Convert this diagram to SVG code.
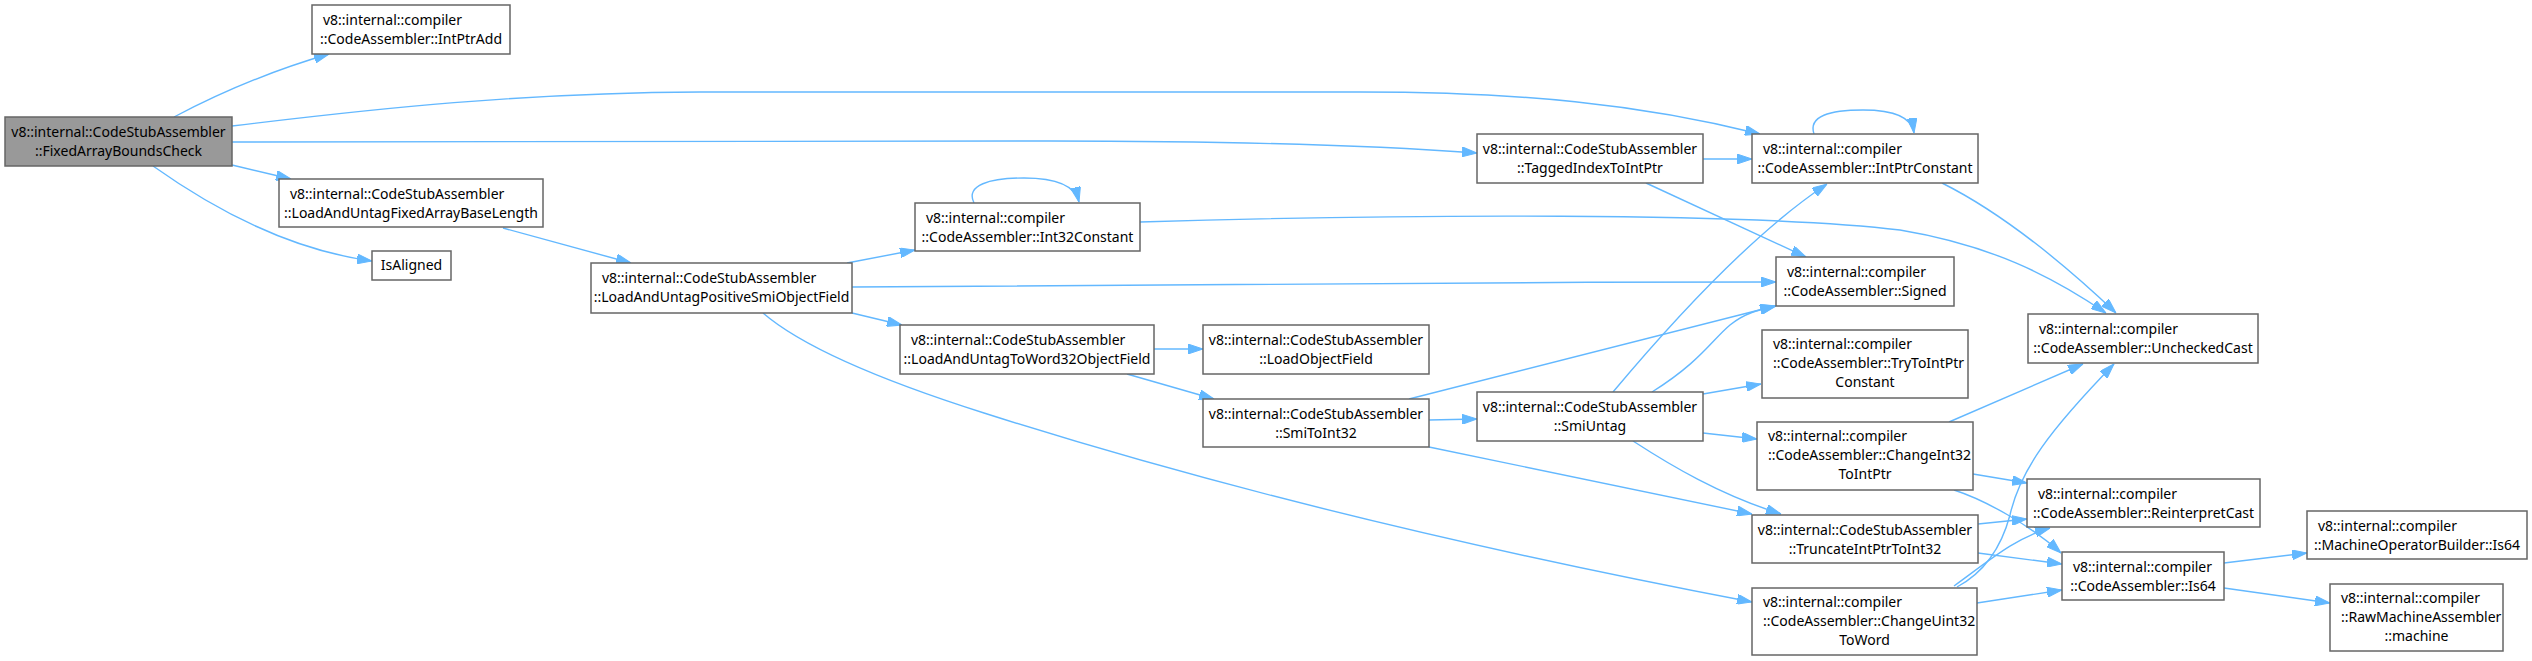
<svg xmlns="http://www.w3.org/2000/svg" width="2532" height="661" viewBox="0 0 2532 661">
<style>
.node rect{fill:#ffffff;stroke:#666666;stroke-width:1.5}
.root rect{fill:#999999}
.node text{font-family:"Noto Sans","Open Sans",sans-serif;font-size:14px;fill:#000000}
.c{text-anchor:middle}
.edge path{fill:none;stroke:#63b8ff;stroke-width:1.4;marker-end:url(#arr)}
</style>
<defs>
<marker id="arr" markerUnits="userSpaceOnUse" viewBox="0 0 15 10" markerWidth="15" markerHeight="10" refX="15" refY="5" orient="auto">
<path d="M0,0 L15,5 L0,10 z" fill="#63b8ff" stroke="#63b8ff" stroke-width="1"/>
</marker>
</defs>
<rect width="2532" height="661" fill="#ffffff"/>
<g id="connectors" class="edge">
<path d="M174,117 C210,98 260,74 329,54"/>
<path d="M232,126 C380,108 520,93 700,92 L1360,92 C1520,92 1640,104 1760,134"/>
<path d="M232,142 L1050,141 C1250,141 1380,146 1477,153"/>
<path d="M232,165 L291,179"/>
<path d="M153,166 C215,210 290,250 372,261"/>
<path d="M503,228 L631,263"/>
<path d="M847,263 L915,250"/>
<path d="M852,287 C1100,285 1450,282 1776,282"/>
<path d="M852,313 L902,325"/>
<path d="M763,313 C800,345 880,380 984,413 C1150,466 1400,535 1752,602"/>
<path d="M1154,349 L1203,349"/>
<path d="M1127,374 L1214,399"/>
<path d="M1429,420 L1477,419"/>
<path d="M1409,399 L1775,306"/>
<path d="M1429,447 L1752,514"/>
<path d="M1613,392 C1665,330 1750,235 1827,184"/>
<path d="M1652,392 C1700,362 1712,340 1730,325 C1745,313 1758,310 1776,306"/>
<path d="M1703,394 L1761,384"/>
<path d="M1703,433 L1757,439"/>
<path d="M1633,441 C1670,465 1720,495 1781,514"/>
<path d="M1703,159 L1752,159"/>
<path d="M1646,183 L1806,257"/>
<path d="M1814,134 C1808,116 1830,110 1863,110 C1895,110 1912,118 1914,133"/>
<path d="M1942,183 C2000,212 2060,260 2116,313"/>
<path d="M974,203 C965,185 990,178 1024,178 C1055,178 1075,185 1079,202"/>
<path d="M1140,222 C1400,214 1750,212 1900,230 C1990,245 2050,275 2106,313"/>
<path d="M1949,422 L2083,364"/>
<path d="M1973,474 L2027,483"/>
<path d="M1954,490 C1985,500 2030,525 2061,553"/>
<path d="M1978,524 L2027,519"/>
<path d="M1978,553 L2062,564"/>
<path d="M1957,587 C1985,572 2002,545 2010,515 C2020,470 2050,430 2114,364"/>
<path d="M1954,586 C1990,560 2015,538 2050,528"/>
<path d="M1977,603 L2062,590"/>
<path d="M2224,563 L2307,553"/>
<path d="M2224,588 L2330,603"/>
</g>
<g id="n_FixedArrayBoundsCheck" class="node root"><rect x="5" y="117" width="227" height="49"/><text class="c" x="118.5" y="137">v8::internal::CodeStubAssembler</text><text class="c" x="118.5" y="156">::FixedArrayBoundsCheck</text></g>
<g id="n_IntPtrAdd" class="node"><rect x="312" y="5" width="198" height="49"/><text x="323" y="25">v8::internal::compiler</text><text class="c" x="411" y="44">::CodeAssembler::IntPtrAdd</text></g>
<g id="n_LoadAndUntagFixedArrayBaseLength" class="node"><rect x="279" y="179" width="264" height="48"/><text x="290" y="199">v8::internal::CodeStubAssembler</text><text class="c" x="411" y="218">::LoadAndUntagFixedArrayBaseLength</text></g>
<g id="n_IsAligned" class="node"><rect x="372" y="251" width="79" height="29"/><text class="c" x="411.5" y="270">IsAligned</text></g>
<g id="n_LoadAndUntagPositiveSmiObjectField" class="node"><rect x="591" y="263" width="261" height="50"/><text x="602" y="283">v8::internal::CodeStubAssembler</text><text class="c" x="721.5" y="302">::LoadAndUntagPositiveSmiObjectField</text></g>
<g id="n_Int32Constant" class="node"><rect x="915" y="203" width="225" height="48"/><text x="926" y="223">v8::internal::compiler</text><text class="c" x="1027.5" y="242">::CodeAssembler::Int32Constant</text></g>
<g id="n_LoadAndUntagToWord32ObjectField" class="node"><rect x="900" y="325" width="254" height="49"/><text x="911" y="345">v8::internal::CodeStubAssembler</text><text class="c" x="1027" y="364">::LoadAndUntagToWord32ObjectField</text></g>
<g id="n_LoadObjectField" class="node"><rect x="1203" y="325" width="226" height="49"/><text class="c" x="1316" y="345">v8::internal::CodeStubAssembler</text><text class="c" x="1316" y="364">::LoadObjectField</text></g>
<g id="n_SmiToInt32" class="node"><rect x="1203" y="399" width="226" height="48"/><text class="c" x="1316" y="419">v8::internal::CodeStubAssembler</text><text class="c" x="1316" y="438">::SmiToInt32</text></g>
<g id="n_TaggedIndexToIntPtr" class="node"><rect x="1477" y="134" width="226" height="49"/><text class="c" x="1590" y="154">v8::internal::CodeStubAssembler</text><text class="c" x="1590" y="173">::TaggedIndexToIntPtr</text></g>
<g id="n_IntPtrConstant" class="node"><rect x="1752" y="134" width="226" height="49"/><text x="1763" y="154">v8::internal::compiler</text><text class="c" x="1865" y="173">::CodeAssembler::IntPtrConstant</text></g>
<g id="n_Signed" class="node"><rect x="1776" y="257" width="178" height="49"/><text x="1787" y="277">v8::internal::compiler</text><text class="c" x="1865" y="296">::CodeAssembler::Signed</text></g>
<g id="n_TryToIntPtrConstant" class="node"><rect x="1762" y="330" width="206" height="68"/><text x="1773" y="349">v8::internal::compiler</text><text x="1773" y="368">::CodeAssembler::TryToIntPtr</text><text class="c" x="1865" y="387">Constant</text></g>
<g id="n_SmiUntag" class="node"><rect x="1477" y="392" width="226" height="49"/><text class="c" x="1590" y="412">v8::internal::CodeStubAssembler</text><text class="c" x="1590" y="431">::SmiUntag</text></g>
<g id="n_ChangeInt32ToIntPtr" class="node"><rect x="1757" y="422" width="216" height="68"/><text x="1768" y="441">v8::internal::compiler</text><text x="1768" y="460">::CodeAssembler::ChangeInt32</text><text class="c" x="1865" y="479">ToIntPtr</text></g>
<g id="n_TruncateIntPtrToInt32" class="node"><rect x="1752" y="515" width="226" height="48"/><text class="c" x="1865" y="535">v8::internal::CodeStubAssembler</text><text class="c" x="1865" y="554">::TruncateIntPtrToInt32</text></g>
<g id="n_ChangeUint32ToWord" class="node"><rect x="1752" y="588" width="225" height="67"/><text x="1763" y="607">v8::internal::compiler</text><text x="1763" y="626">::CodeAssembler::ChangeUint32</text><text class="c" x="1864.5" y="645">ToWord</text></g>
<g id="n_UncheckedCast" class="node"><rect x="2028" y="314" width="230" height="49"/><text x="2039" y="334">v8::internal::compiler</text><text class="c" x="2143" y="353">::CodeAssembler::UncheckedCast</text></g>
<g id="n_ReinterpretCast" class="node"><rect x="2027" y="479" width="233" height="48"/><text x="2038" y="499">v8::internal::compiler</text><text class="c" x="2143.5" y="518">::CodeAssembler::ReinterpretCast</text></g>
<g id="n_Is64" class="node"><rect x="2062" y="552" width="162" height="48"/><text x="2073" y="572">v8::internal::compiler</text><text class="c" x="2143" y="591">::CodeAssembler::Is64</text></g>
<g id="n_MachineOperatorBuilder_Is64" class="node"><rect x="2307" y="511" width="220" height="48"/><text x="2318" y="531">v8::internal::compiler</text><text class="c" x="2417" y="550">::MachineOperatorBuilder::Is64</text></g>
<g id="n_RawMachineAssembler_machine" class="node"><rect x="2330" y="584" width="173" height="67"/><text x="2341" y="603">v8::internal::compiler</text><text x="2341" y="622">::RawMachineAssembler</text><text class="c" x="2416.5" y="641">::machine</text></g>
</svg>
